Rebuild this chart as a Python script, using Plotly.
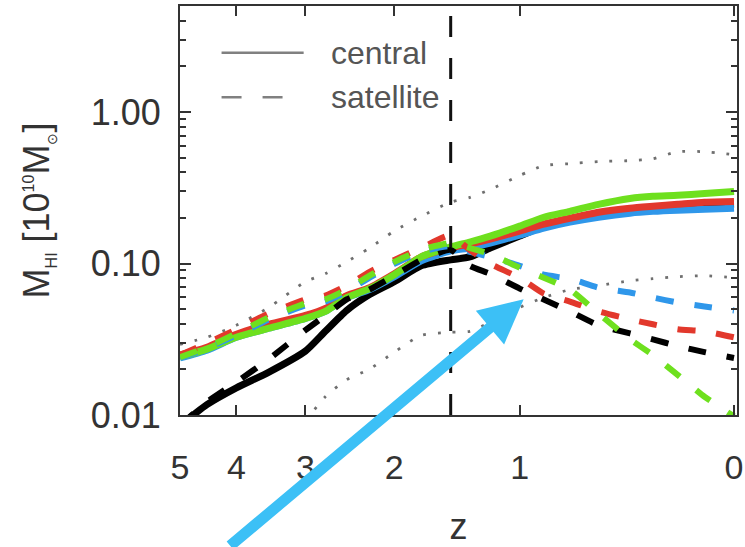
import numpy as np
import plotly.graph_objects as go

# ---------------- data ----------------
z_grid = [5.0, 4.5, 4.0, 3.5, 3.0, 2.75, 2.5, 2.25, 2.0, 1.75, 1.5,
          1.35, 1.2, 1.0, 0.85, 0.7, 0.55, 0.4, 0.3, 0.2, 0.1, 0.0]

central_black = [0.0085, 0.0117, 0.0151, 0.0192, 0.0264, 0.0357, 0.049, 0.0624,
                 0.0759, 0.0966, 0.1057, 0.1106, 0.1267, 0.1518, 0.1766, 0.193,
                 0.215, 0.228, 0.235, 0.239, 0.242, 0.246]
central_red = [0.0249, 0.028, 0.0341, 0.0397, 0.0454, 0.0505, 0.0614, 0.0693,
               0.0856, 0.1106, 0.1267, 0.1346, 0.1451, 0.1637, 0.182, 0.199,
               0.218, 0.232, 0.239, 0.246, 0.254, 0.257]
central_green = [0.0241, 0.0272, 0.0326, 0.0374, 0.0434, 0.0483, 0.0596, 0.0683,
                 0.0843, 0.1106, 0.1286, 0.1387, 0.1518, 0.1766, 0.202, 0.221,
                 0.246, 0.269, 0.278, 0.282, 0.290, 0.299]
central_blue = [0.0238, 0.0268, 0.0326, 0.0374, 0.0434, 0.0483, 0.0596, 0.0673,
                0.0818, 0.1041, 0.1211, 0.1267, 0.1366, 0.154, 0.1713, 0.1875,
                0.202, 0.215, 0.221, 0.225, 0.228, 0.232]

sat_black = [0.0085, 0.0122, 0.0165, 0.0234, 0.0363, 0.0454, 0.0579, 0.0673,
             0.0831, 0.1057, 0.1229, 0.0966, 0.0856, 0.0683, 0.0579, 0.0483,
             0.0391, 0.0346, 0.0316, 0.0285, 0.026, 0.0238]
sat_red = [0.0249, 0.0298, 0.0368, 0.0468, 0.0579, 0.0614, 0.0714, 0.0882,
           0.1057, 0.1267, 0.154, 0.1229, 0.0995, 0.0806, 0.0633, 0.0561,
           0.0483, 0.0428, 0.0397, 0.0368, 0.0357, 0.0326]
sat_green = [0.0241, 0.028, 0.0346, 0.0441, 0.0545, 0.0579, 0.0673, 0.0831,
             0.1026, 0.1229, 0.1366, 0.1267, 0.1157, 0.0937, 0.0806, 0.0673,
             0.0468, 0.0316, 0.0249, 0.0184, 0.0132, 0.0098]
sat_blue = [0.0238, 0.0276, 0.0336, 0.0428, 0.0529, 0.0561, 0.0653, 0.0806,
            0.0995, 0.1193, 0.1306, 0.1193, 0.1106, 0.0966, 0.0843, 0.0794,
            0.0693, 0.0643, 0.0596, 0.0553, 0.0521, 0.049]

pct_upper = [0.0293, 0.0326, 0.0391, 0.0513, 0.0759, 0.0856, 0.1026, 0.1267,
             0.164, 0.205, 0.254, 0.273, 0.308, 0.381, 0.443, 0.456, 0.471,
             0.478, 0.492, 0.547, 0.547, 0.523]
z_lower = [3.0, 2.75, 2.5, 2.25, 2.0, 1.75, 1.5, 1.35, 1.2, 1.0, 0.85, 0.7,
           0.55, 0.4, 0.3, 0.2, 0.1, 0.0]
pct_lower = [0.0091, 0.0132, 0.0171, 0.0201, 0.026, 0.0336, 0.0352, 0.0357,
             0.0409, 0.0513, 0.0596, 0.0673, 0.0714, 0.077, 0.0794, 0.0818,
             0.0831, 0.0806]

z_split = 1.5
z_ticks = [5, 4, 3, 2, 1, 0]
y_ticks = [0.01, 0.1, 1.0]
y_ticktext = ["0.01", "0.10", "1.00"]
y_range_log = [-2.0, 0.70]

# ---------------- styling ----------------
FONT = "Liberation Sans, Arial, Helvetica, sans-serif"
TXT = "#333333"
C_BLACK = "#000000"
C_RED = "#e2382c"
C_GREEN = "#6ee01e"
C_BLUE = "#2f97ea"
C_ARROW = "#3cc0f6"

onepz = lambda z: np.asarray(z, dtype=float) + 1.0

fig = go.Figure()

# percentile envelopes (dotted)
for zz, yy in [(z_grid, pct_upper), (z_lower, pct_lower)]:
    fig.add_trace(go.Scatter(x=onepz(zz), y=yy, mode="lines",
                             line=dict(color="#6f6f6f", width=2.8, dash="2.8px,12px",
                                       shape="spline", smoothing=0.6),
                             showlegend=False, hoverinfo="skip"))

# central (solid)
for yy, col in [(central_black, C_BLACK), (central_blue, C_BLUE),
                (central_red, C_RED), (central_green, C_GREEN)]:
    fig.add_trace(go.Scatter(x=onepz(z_grid), y=yy, mode="lines",
                             line=dict(color=col, width=7, shape="spline", smoothing=0.6),
                             showlegend=False, hoverinfo="skip"))

# satellite (dashed)
for yy, col in [(sat_black, C_BLACK), (sat_blue, C_BLUE),
                (sat_red, C_RED), (sat_green, C_GREEN)]:
    fig.add_trace(go.Scatter(x=onepz(z_grid), y=yy, mode="lines",
                             line=dict(color=col, width=6, dash="18px,21px",
                                       shape="spline", smoothing=0.5),
                             showlegend=False, hoverinfo="skip"))

# vertical split line
fig.add_trace(go.Scatter(x=onepz([z_split, z_split]),
                         y=[10 ** y_range_log[0], 10 ** y_range_log[1]],
                         mode="lines",
                         line=dict(color="#111111", width=3, dash="21px,21px"),
                         showlegend=False, hoverinfo="skip"))

axis_common = dict(showline=True, linecolor="#333333", linewidth=2, mirror="allticks",
                   ticks="inside", tickcolor="#333333", tickwidth=2,
                   showgrid=False, zeroline=False, ticklabeloverflow="allow",
                   tickfont=dict(family=FONT, size=34, color=TXT))

fig.update_xaxes(type="log", range=[np.log10(6.0), -0.0042],
                 tickmode="array", tickvals=onepz(z_ticks),
                 ticktext=[str(t) for t in z_ticks], ticklen=10,
                 ticklabelstandoff=21,
                 title=dict(text="z", font=dict(family=FONT, size=36, color=TXT),
                            standoff=34),
                 **axis_common)

minor_vals = [m * d for d in [0.01, 0.1, 1.0] for m in range(2, 10) if m * d < 5.1]
fig.update_yaxes(type="log", range=y_range_log,
                 tickmode="array", tickvals=y_ticks, ticktext=y_ticktext,
                 ticklen=11, ticklabelstandoff=10,
                 minor=dict(tickmode="array", tickvals=minor_vals, ticks="inside",
                            ticklen=6, tickcolor="#333333", tickwidth=1.5),
                 title=dict(text="M<sub><span style='font-size:16px'>HI</span></sub> [10<sup><span style='font-size:16px'>10</span></sup>M<sub><span style='font-size:14px'>⊙</span></sub>]",
                            font=dict(family=FONT, size=36, color=TXT), standoff=30),
                 **axis_common)
fig.update_yaxes(tickfont=dict(family=FONT, size=36, color=TXT))

# legend drawn as sample lines + labels
legend_items = [("central", "solid", 0.886), ("satellite", "20px,21px", 0.777)]
for label, dash, yp in legend_items:
    fig.add_shape(type="line", xref="paper", yref="paper",
                  x0=0.0746, x1=0.222 if dash == "solid" else 0.185, y0=yp, y1=yp,
                  line=dict(color="#808080", width=2.5, dash=dash))
    fig.add_annotation(xref="paper", yref="paper", x=0.268, y=yp, xanchor="left",
                       yanchor="middle", text=label, showarrow=False,
                       font=dict(family=FONT, size=32, color="#555555"))

# highlight arrow
fig.add_annotation(xref="paper", yref="paper", x=0.617, y=0.283, text="",
                   showarrow=True, arrowhead=2, arrowsize=0.8, arrowwidth=11,
                   arrowcolor=C_ARROW, ax=-295, ay=262)

fig.update_layout(width=745, height=547,
                  margin=dict(l=180, r=2, t=6, b=128),
                  paper_bgcolor="white", plot_bgcolor="white",
                  showlegend=False)

fig.write_html("out.html")
